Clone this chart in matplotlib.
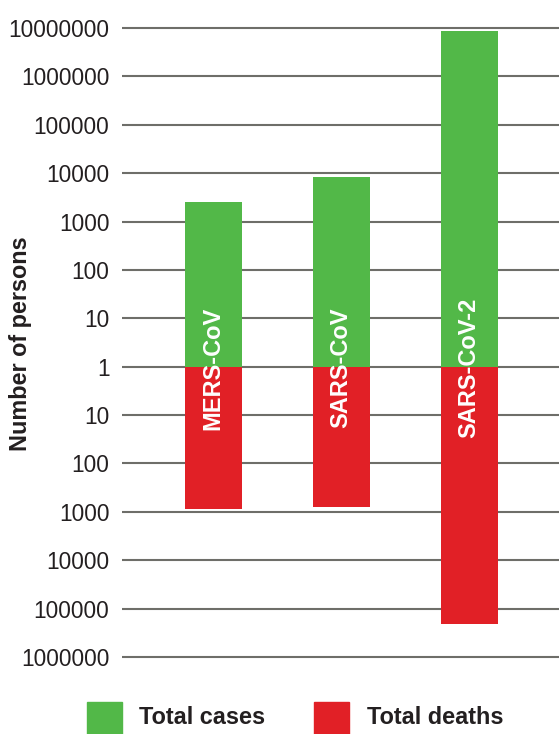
import matplotlib
matplotlib.use("Agg")
import matplotlib.pyplot as plt
from matplotlib.patches import Rectangle
from matplotlib import font_manager
import numpy as np

viruses = ["MERS-CoV", "SARS-CoV", "SARS-CoV-2"]
total_cases = [2550, 8300, 8500000]
total_deaths = [890, 810, 205000]
tick_exponents = list(range(-6, 8))
tick_labels = [str(10 ** abs(k)) for k in tick_exponents]

names = {f.name for f in font_manager.fontManager.ttflist}
narrow = "Liberation Sans Narrow" if "Liberation Sans Narrow" in names else "Liberation Sans"

green = "#52b848"
red = "#e12026"
grid_c = "#6e6e69"
txt_c = "#231f20"

W, H = 559, 734
fig = plt.figure(figsize=(W / 100, H / 100), dpi=100)

unit = 48.38
ylo, yhi = -6.3, 7.3
top_px = 28 - (yhi - 7) * unit
bot_px = 657 + (-6 - ylo) * unit
ax = fig.add_axes([122 / W, 1 - bot_px / H, (W - 122) / W, (bot_px - top_px) / H])

x = np.arange(len(viruses))
xl = (122 - 213) / 128
xr = (559 - 213) / 128
ax.set_xlim(xl, xr)
ax.set_ylim(ylo, yhi)

for k in tick_exponents:
    ax.axhline(k, color=grid_c, lw=1.5, zorder=1)

cases_h = np.log10(total_cases)
deaths_h = -np.log10(total_deaths)
ax.bar(x, cases_h, width=57 / 128, bottom=0, color=green, zorder=2)
ax.bar(x, deaths_h, width=57 / 128, bottom=0, color=red, zorder=2)

for xi, name in zip(x, viruses):
    ax.text(xi, -0.03, name, rotation=90, ha="center", va="center",
            color="white", fontsize=17, fontweight="bold", family=narrow, zorder=3)

ax.set_yticks(tick_exponents)
ax.set_yticklabels(tick_labels, family=narrow, fontsize=16.3, color=txt_c)
ax.tick_params(axis="y", length=0, pad=9)
ax.set_xticks([])
for s in ax.spines.values():
    s.set_visible(False)

fig.text(21 / W, 1 - 344 / H, "Number of persons", rotation=90, ha="center", va="center",
         fontsize=16.8, fontweight="bold", family=narrow, color=txt_c)

# legend
fig.add_artist(Rectangle((87 / W, 0), 35 / W, 32 / H, transform=fig.transFigure,
                         color=green))
fig.add_artist(Rectangle((314 / W, 0), 35 / W, 32 / H, transform=fig.transFigure,
                         color=red))
fig.text(139 / W, 1 - 717 / H, "Total cases", ha="left", va="center",
         fontsize=16.9, fontweight="bold", family=narrow, color=txt_c)
fig.text(367 / W, 1 - 717 / H, "Total deaths", ha="left", va="center",
         fontsize=16.9, fontweight="bold", family=narrow, color=txt_c)

fig.savefig("out.png", dpi=100)
